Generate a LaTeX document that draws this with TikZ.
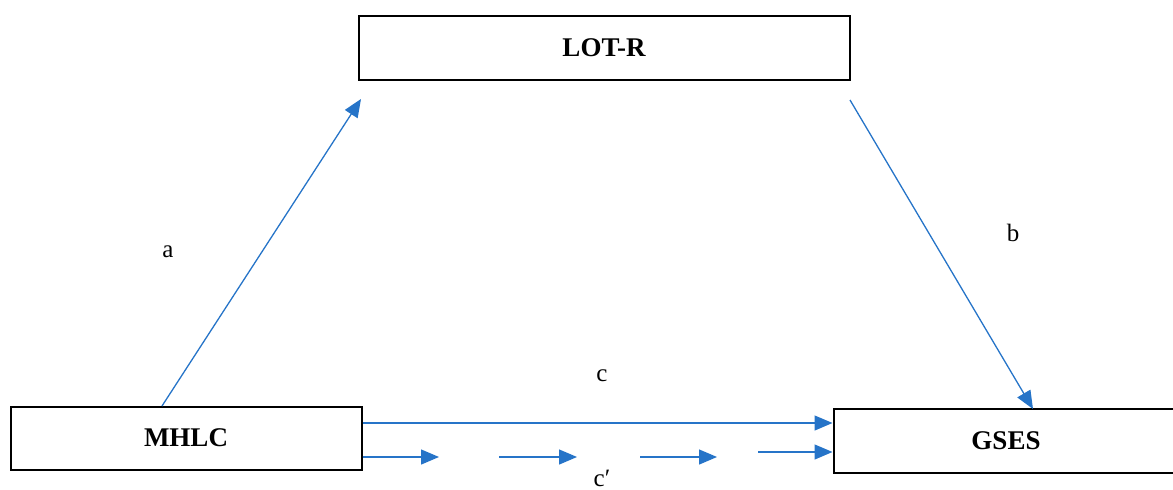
\documentclass[tikz,border=0pt]{standalone}
\usepackage{fontspec}
\setmainfont{Liberation Serif}
\usetikzlibrary{arrows.meta}
\definecolor{linkblue}{RGB}{38,116,200}
\tikzset{
  varbox/.style={draw=black, line width=2pt, fill=white, font=\fontsize{27}{30}\selectfont\bfseries, inner sep=0pt},
  path/.style={draw=linkblue, line width=1.3pt, -{Triangle[length=18pt,width=15pt]}},
  plabel/.style={font=\fontsize{25}{28}\selectfont, inner sep=0pt}
}
\begin{document}
\begin{tikzpicture}[x=1pt,y=-1pt]
  \clip (0,0) rectangle (1173,490);
  \useasboundingbox (0,0) rectangle (1173,490);
  % variable boxes
  \node[varbox, minimum width=491pt, minimum height=64pt] (lot) at (604,47.5) {LOT-R};
  \node[varbox, minimum width=351pt, minimum height=63pt] (mhlc) at (186,438) {MHLC};
  \node[varbox, minimum width=345pt, minimum height=64pt] (gses) at (1006,440.5) {GSES};
  % anchors for the paths
  \coordinate (aS) at (162,406);
  \coordinate (aE) at (361,99);
  \coordinate (bS) at (850,100);
  \coordinate (bE) at (1033,409);
  % indirect path a and b
  \draw[path] (aS) -- (aE);
  \draw[path] (bS) -- (bE);
  % direct path c
  \draw[path] (mhlc.east |- 0,423) -- (gses.west |- 0,423);
  % broken path c'
  \coordinate (d1) at (499,457);
  \coordinate (d2) at (577,457);
  \coordinate (d3) at (640,457);
  \coordinate (d4) at (717,457);
  \coordinate (d5) at (758,452);
  \draw[path] (mhlc.east |- 0,457) -- (439,457);
  \draw[path] (d1) -- (d2);
  \draw[path] (d3) -- (d4);
  \draw[path] (d5) -- (gses.west |- d5);
  % path labels
  \node[plabel] (la) at (168,252) {a};
  \node[plabel] (lb) at (1013,233) {b};
  \node[plabel] (lc) at (602,376) {c};
  \node[plabel] (lcp) at (602,478) {c′};
\end{tikzpicture}
\end{document}
